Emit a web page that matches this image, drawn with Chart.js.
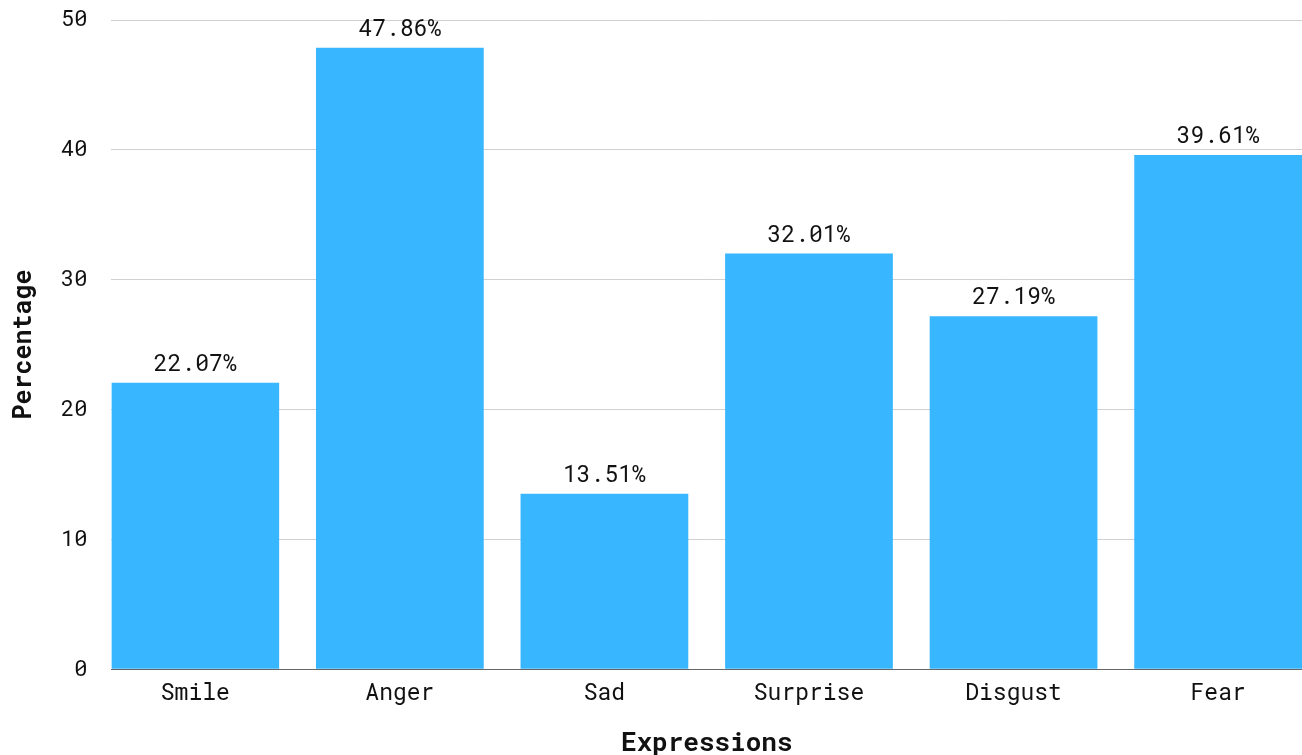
<!DOCTYPE html>
<html>
<head>
<meta charset="utf-8">
<script src="https://cdn.jsdelivr.net/npm/chart.js@4/dist/chart.umd.min.js"></script>
<style>
  html, body { margin: 0; padding: 0; background: #ffffff; }
  #wrap { width: 1302px; height: 755px; position: relative; }
</style>
</head>
<body>
<div id="wrap"><canvas id="chart"></canvas></div>
<script>
const categories = ['Smile', 'Anger', 'Sad', 'Surprise', 'Disgust', 'Fear'];
const percentages = [22.07, 47.86, 13.51, 32.01, 27.19, 39.61];
const yTicks = [0, 10, 20, 30, 40, 50];

const FONT = "'Roboto Mono', 'DejaVu Sans Mono', monospace";
// Bar width as a share of the spacing between category centres
const BAR_SHARE = 0.82;

// Writes each bar's value above it, positioned from the bar element
const valueLabels = {
  id: 'valueLabels',
  afterDatasetsDraw(chart) {
    const { ctx } = chart;
    const meta = chart.getDatasetMeta(0);
    ctx.save();
    ctx.font = '23px ' + FONT;
    ctx.fillStyle = '#111111';
    ctx.textAlign = 'center';
    ctx.textBaseline = 'bottom';
    meta.data.forEach((bar, i) => {
      ctx.fillText(percentages[i].toFixed(2) + '%', bar.x, bar.y - 7);
    });
    ctx.restore();
  }
};

new Chart(document.getElementById('chart'), {
  type: 'bar',
  data: {
    datasets: [{
      data: percentages.map((v, i) => ({ x: i, y: v })),
      backgroundColor: '#38B6FF',
      borderWidth: 0,
      categoryPercentage: 1.0,
      barPercentage: BAR_SHARE
    }]
  },
  options: {
    responsive: true,
    maintainAspectRatio: false,
    animation: false,
    layout: { padding: { top: 20, right: 0, left: 9, bottom: -4 } },
    plugins: {
      legend: { display: false },
      tooltip: { enabled: false }
    },
    scales: {
      x: {
        type: 'linear',
        offset: false,
        min: -BAR_SHARE / 2,
        max: categories.length - 1 + BAR_SHARE / 2,
        afterBuildTicks(axis) { axis.ticks = categories.map((_, i) => ({ value: i })); },
        grid: { display: false, drawTicks: false, offset: false },
        border: { display: true, color: '#666666', width: 1 },
        ticks: {
          color: '#111111',
          font: { family: FONT, size: 23 },
          padding: 10,
          maxRotation: 0,
          autoSkip: false,
          callback: (v) => categories[v]
        },
        title: {
          display: true,
          text: 'Expressions',
          color: '#111111',
          font: { family: FONT, size: 26, weight: 'bold' },
          padding: { top: 11, bottom: 0 }
        }
      },
      y: {
        min: 0,
        max: 50,
        afterBuildTicks(axis) { axis.ticks = yTicks.map(v => ({ value: v })); },
        grid: { color: '#d0d0d0', drawTicks: true, tickLength: 24, tickColor: 'rgba(0,0,0,0)' },
        border: { display: false },
        ticks: { color: '#111111', font: { family: FONT, size: 22 }, padding: 0 },
        title: {
          display: true,
          text: 'Percentage',
          color: '#111111',
          font: { family: FONT, size: 25, weight: 'bold' },
          padding: { top: 0, bottom: 22 }
        }
      }
    }
  },
  plugins: [valueLabels]
});
</script>
</body>
</html>
